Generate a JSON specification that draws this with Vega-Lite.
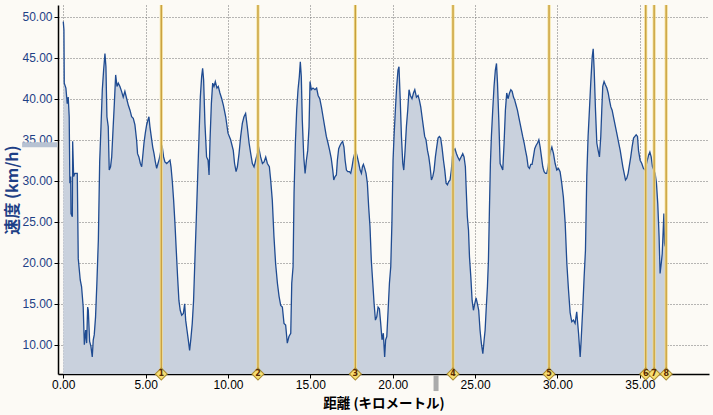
{
  "$schema": "https://vega.github.io/schema/vega-lite/v6.json",
  "width": 651,
  "height": 369,
  "autosize": {"type": "none"},
  "padding": {"left": 58, "top": 5, "right": 4, "bottom": 41},
  "background": "#FCFAF5",
  "config": {
    "view": {"stroke": null},
    "axis": {
      "labelFont": "Liberation Sans",
      "labelFontSize": 12,
      "titleFont": "Noto Sans CJK JP",
      "domainColor": "#000000",
      "domainWidth": 1.5,
      "tickColor": "#000000",
      "tickSize": 4,
      "gridColor": "#707070",
      "gridDash": [1, 2],
      "gridWidth": 1,
      "gridOpacity": 1
    }
  },
  "datasets": {
    "speed": [
      {"d":0,"v":49.4},{"d":0.04,"v":48.4},{"d":0.06,"v":41.9},{"d":0.16,"v":41.3},{"d":0.24,"v":39.4},{"d":0.3,"v":40.2},{"d":0.36,"v":37.8},{"d":0.4,"v":29.7},{"d":0.45,"v":30.5},{"d":0.47,"v":26.0},{"d":0.55,"v":25.6},{"d":0.57,"v":34.8},{"d":0.63,"v":30.5},{"d":0.71,"v":30.9},{"d":0.85,"v":30.9},{"d":0.91,"v":20.5},{"d":1.03,"v":17.9},{"d":1.11,"v":17.1},{"d":1.21,"v":14.6},{"d":1.28,"v":10.0},{"d":1.36,"v":11.8},{"d":1.42,"v":10.2},{"d":1.48,"v":14.6},{"d":1.52,"v":14.2},{"d":1.6,"v":10.4},{"d":1.68,"v":9.8},{"d":1.76,"v":8.5},{"d":1.82,"v":10.6},{"d":1.88,"v":11.2},{"d":1.96,"v":13.4},{"d":2.04,"v":17.5},{"d":2.13,"v":22.8},{"d":2.21,"v":32.3},{"d":2.29,"v":36.6},{"d":2.37,"v":41.1},{"d":2.45,"v":43.5},{"d":2.53,"v":45.5},{"d":2.59,"v":43.9},{"d":2.65,"v":37.8},{"d":2.73,"v":36.6},{"d":2.79,"v":31.3},{"d":2.87,"v":31.7},{"d":2.94,"v":32.9},{"d":3.02,"v":36.2},{"d":3.1,"v":39.4},{"d":3.18,"v":42.9},{"d":3.26,"v":41.5},{"d":3.34,"v":41.9},{"d":3.44,"v":41.5},{"d":3.54,"v":40.9},{"d":3.64,"v":40.2},{"d":3.74,"v":40.9},{"d":3.85,"v":40.0},{"d":3.95,"v":39.2},{"d":4.05,"v":38.6},{"d":4.15,"v":37.8},{"d":4.25,"v":37.6},{"d":4.35,"v":36.8},{"d":4.45,"v":35.0},{"d":4.51,"v":33.3},{"d":4.59,"v":32.9},{"d":4.68,"v":32.1},{"d":4.76,"v":31.7},{"d":4.82,"v":32.9},{"d":4.9,"v":34.6},{"d":4.98,"v":35.8},{"d":5.06,"v":36.8},{"d":5.14,"v":37.4},{"d":5.2,"v":37.8},{"d":5.26,"v":36.6},{"d":5.34,"v":35.4},{"d":5.43,"v":34.1},{"d":5.51,"v":33.3},{"d":5.59,"v":32.3},{"d":5.67,"v":31.5},{"d":5.75,"v":32.1},{"d":5.83,"v":32.7},{"d":5.93,"v":33.7},{"d":6.01,"v":34.1},{"d":6.09,"v":32.9},{"d":6.17,"v":32.3},{"d":6.28,"v":32.1},{"d":6.38,"v":32.3},{"d":6.48,"v":32.5},{"d":6.54,"v":31.7},{"d":6.62,"v":29.9},{"d":6.7,"v":27.6},{"d":6.78,"v":24.8},{"d":6.86,"v":21.5},{"d":6.94,"v":18.3},{"d":7.02,"v":15.4},{"d":7.1,"v":14.2},{"d":7.19,"v":13.6},{"d":7.29,"v":13.8},{"d":7.37,"v":15.0},{"d":7.43,"v":13.0},{"d":7.51,"v":11.8},{"d":7.59,"v":10.6},{"d":7.67,"v":9.3},{"d":7.75,"v":10.8},{"d":7.83,"v":12.6},{"d":7.91,"v":15.4},{"d":7.99,"v":20.3},{"d":8.08,"v":25.6},{"d":8.16,"v":30.5},{"d":8.24,"v":35.4},{"d":8.32,"v":40.2},{"d":8.4,"v":42.7},{"d":8.46,"v":43.7},{"d":8.52,"v":42.3},{"d":8.6,"v":37.0},{"d":8.7,"v":32.9},{"d":8.79,"v":32.5},{"d":8.85,"v":30.7},{"d":8.91,"v":35.0},{"d":8.99,"v":39.4},{"d":9.07,"v":41.9},{"d":9.15,"v":41.5},{"d":9.23,"v":42.1},{"d":9.33,"v":41.3},{"d":9.41,"v":41.5},{"d":9.51,"v":40.7},{"d":9.62,"v":40.0},{"d":9.72,"v":39.2},{"d":9.86,"v":37.8},{"d":10.0,"v":35.8},{"d":10.16,"v":35.0},{"d":10.32,"v":33.7},{"d":10.4,"v":32.1},{"d":10.49,"v":31.1},{"d":10.57,"v":31.7},{"d":10.67,"v":33.3},{"d":10.77,"v":35.4},{"d":10.87,"v":37.0},{"d":10.97,"v":37.8},{"d":11.07,"v":38.2},{"d":11.17,"v":36.6},{"d":11.28,"v":34.6},{"d":11.38,"v":33.3},{"d":11.48,"v":32.1},{"d":11.58,"v":31.7},{"d":11.68,"v":32.5},{"d":11.78,"v":33.3},{"d":11.88,"v":33.9},{"d":11.98,"v":32.9},{"d":12.09,"v":32.1},{"d":12.19,"v":32.3},{"d":12.29,"v":32.9},{"d":12.39,"v":32.1},{"d":12.51,"v":31.7},{"d":12.59,"v":30.1},{"d":12.69,"v":27.6},{"d":12.79,"v":23.2},{"d":12.89,"v":19.9},{"d":13.0,"v":17.5},{"d":13.1,"v":15.9},{"d":13.2,"v":14.8},{"d":13.3,"v":14.6},{"d":13.4,"v":12.6},{"d":13.5,"v":12.4},{"d":13.6,"v":10.2},{"d":13.7,"v":11.0},{"d":13.81,"v":11.4},{"d":13.87,"v":17.5},{"d":13.95,"v":19.5},{"d":14.01,"v":28.5},{"d":14.09,"v":34.6},{"d":14.17,"v":38.6},{"d":14.25,"v":41.1},{"d":14.33,"v":42.7},{"d":14.39,"v":44.5},{"d":14.45,"v":42.7},{"d":14.51,"v":37.4},{"d":14.6,"v":32.9},{"d":14.68,"v":30.9},{"d":14.76,"v":32.5},{"d":14.84,"v":33.7},{"d":14.92,"v":36.6},{"d":14.98,"v":42.1},{"d":15.06,"v":41.1},{"d":15.16,"v":41.3},{"d":15.28,"v":41.1},{"d":15.38,"v":41.3},{"d":15.47,"v":40.4},{"d":15.57,"v":40.0},{"d":15.67,"v":39.0},{"d":15.77,"v":37.8},{"d":15.87,"v":36.6},{"d":15.97,"v":35.4},{"d":16.07,"v":34.6},{"d":16.17,"v":33.7},{"d":16.27,"v":32.7},{"d":16.36,"v":31.3},{"d":16.42,"v":30.1},{"d":16.5,"v":30.5},{"d":16.58,"v":30.7},{"d":16.64,"v":32.5},{"d":16.72,"v":33.9},{"d":16.8,"v":34.3},{"d":16.88,"v":34.6},{"d":16.96,"v":34.8},{"d":17.04,"v":34.1},{"d":17.11,"v":32.5},{"d":17.19,"v":31.3},{"d":17.27,"v":31.1},{"d":17.37,"v":31.1},{"d":17.45,"v":30.9},{"d":17.53,"v":31.7},{"d":17.61,"v":32.7},{"d":17.69,"v":33.3},{"d":17.77,"v":33.5},{"d":17.85,"v":32.9},{"d":17.94,"v":32.1},{"d":18.02,"v":31.3},{"d":18.1,"v":30.9},{"d":18.16,"v":31.7},{"d":18.22,"v":32.0},{"d":18.3,"v":31.5},{"d":18.38,"v":30.9},{"d":18.46,"v":29.7},{"d":18.54,"v":26.8},{"d":18.62,"v":24.4},{"d":18.7,"v":20.3},{"d":18.79,"v":17.5},{"d":18.87,"v":15.0},{"d":18.95,"v":13.0},{"d":19.03,"v":13.4},{"d":19.11,"v":14.6},{"d":19.19,"v":14.4},{"d":19.27,"v":12.6},{"d":19.35,"v":10.6},{"d":19.43,"v":11.4},{"d":19.51,"v":8.5},{"d":19.57,"v":10.6},{"d":19.64,"v":11.0},{"d":19.72,"v":14.2},{"d":19.8,"v":17.5},{"d":19.88,"v":19.5},{"d":19.95,"v":24.8},{"d":20.02,"v":32.5},{"d":20.08,"v":35.4},{"d":20.16,"v":38.6},{"d":20.24,"v":41.5},{"d":20.32,"v":43.5},{"d":20.38,"v":43.9},{"d":20.45,"v":40.2},{"d":20.53,"v":35.4},{"d":20.61,"v":32.1},{"d":20.67,"v":31.3},{"d":20.75,"v":33.7},{"d":20.83,"v":36.6},{"d":20.91,"v":38.6},{"d":20.99,"v":41.1},{"d":21.07,"v":40.4},{"d":21.17,"v":40.0},{"d":21.26,"v":40.7},{"d":21.34,"v":41.1},{"d":21.44,"v":40.2},{"d":21.54,"v":40.4},{"d":21.62,"v":39.8},{"d":21.7,"v":39.0},{"d":21.78,"v":37.8},{"d":21.86,"v":36.6},{"d":21.94,"v":35.4},{"d":22.02,"v":35.0},{"d":22.11,"v":33.7},{"d":22.19,"v":32.9},{"d":22.27,"v":31.7},{"d":22.35,"v":30.1},{"d":22.43,"v":30.5},{"d":22.51,"v":31.3},{"d":22.59,"v":32.9},{"d":22.67,"v":34.1},{"d":22.75,"v":35.2},{"d":22.83,"v":35.4},{"d":22.91,"v":35.2},{"d":22.99,"v":34.1},{"d":23.08,"v":32.5},{"d":23.16,"v":31.3},{"d":23.24,"v":29.7},{"d":23.32,"v":29.5},{"d":23.4,"v":29.9},{"d":23.48,"v":30.1},{"d":23.56,"v":31.3},{"d":23.62,"v":32.9},{"d":23.7,"v":33.7},{"d":23.78,"v":33.9},{"d":23.87,"v":33.3},{"d":23.95,"v":32.9},{"d":24.05,"v":32.5},{"d":24.15,"v":32.9},{"d":24.25,"v":33.3},{"d":24.33,"v":32.9},{"d":24.41,"v":31.7},{"d":24.47,"v":28.5},{"d":24.53,"v":25.6},{"d":24.6,"v":24.0},{"d":24.66,"v":20.7},{"d":24.74,"v":18.3},{"d":24.82,"v":15.4},{"d":24.9,"v":14.2},{"d":24.98,"v":15.0},{"d":25.06,"v":15.7},{"d":25.14,"v":15.0},{"d":25.22,"v":14.2},{"d":25.3,"v":11.8},{"d":25.38,"v":10.2},{"d":25.47,"v":8.9},{"d":25.55,"v":10.6},{"d":25.61,"v":11.8},{"d":25.67,"v":14.2},{"d":25.75,"v":17.1},{"d":25.81,"v":20.3},{"d":25.87,"v":26.4},{"d":25.93,"v":32.1},{"d":25.99,"v":35.4},{"d":26.07,"v":38.6},{"d":26.15,"v":41.5},{"d":26.23,"v":43.5},{"d":26.3,"v":44.3},{"d":26.36,"v":41.9},{"d":26.44,"v":37.4},{"d":26.52,"v":32.1},{"d":26.6,"v":31.7},{"d":26.68,"v":31.3},{"d":26.76,"v":34.6},{"d":26.84,"v":38.6},{"d":26.92,"v":40.7},{"d":27.0,"v":40.0},{"d":27.09,"v":40.7},{"d":27.17,"v":41.1},{"d":27.25,"v":40.9},{"d":27.33,"v":40.2},{"d":27.41,"v":39.8},{"d":27.49,"v":39.2},{"d":27.57,"v":38.6},{"d":27.65,"v":37.8},{"d":27.73,"v":37.0},{"d":27.81,"v":36.2},{"d":27.89,"v":35.4},{"d":27.98,"v":34.6},{"d":28.06,"v":33.7},{"d":28.14,"v":32.9},{"d":28.22,"v":31.7},{"d":28.3,"v":31.5},{"d":28.38,"v":32.0},{"d":28.46,"v":32.0},{"d":28.54,"v":32.9},{"d":28.62,"v":33.9},{"d":28.7,"v":34.3},{"d":28.79,"v":34.6},{"d":28.87,"v":35.0},{"d":28.95,"v":34.1},{"d":29.03,"v":32.9},{"d":29.11,"v":31.7},{"d":29.19,"v":31.1},{"d":29.27,"v":30.9},{"d":29.35,"v":30.9},{"d":29.43,"v":31.7},{"d":29.51,"v":32.9},{"d":29.59,"v":33.7},{"d":29.66,"v":34.1},{"d":29.76,"v":33.3},{"d":29.86,"v":32.1},{"d":29.96,"v":31.3},{"d":30.06,"v":31.5},{"d":30.16,"v":31.1},{"d":30.26,"v":29.7},{"d":30.36,"v":28.0},{"d":30.47,"v":24.8},{"d":30.57,"v":19.9},{"d":30.67,"v":16.7},{"d":30.77,"v":13.9},{"d":30.87,"v":12.8},{"d":30.97,"v":13.0},{"d":31.07,"v":12.6},{"d":31.17,"v":14.0},{"d":31.28,"v":11.4},{"d":31.38,"v":8.5},{"d":31.44,"v":10.6},{"d":31.54,"v":14.6},{"d":31.62,"v":18.3},{"d":31.7,"v":21.5},{"d":31.78,"v":30.5},{"d":31.86,"v":35.4},{"d":31.94,"v":38.6},{"d":32.02,"v":41.9},{"d":32.11,"v":45.1},{"d":32.17,"v":46.1},{"d":32.23,"v":43.5},{"d":32.31,"v":38.6},{"d":32.39,"v":34.6},{"d":32.47,"v":33.7},{"d":32.55,"v":32.9},{"d":32.63,"v":35.4},{"d":32.69,"v":38.6},{"d":32.75,"v":41.5},{"d":32.83,"v":42.1},{"d":32.91,"v":41.7},{"d":33.0,"v":41.3},{"d":33.08,"v":40.7},{"d":33.16,"v":39.8},{"d":33.24,"v":39.0},{"d":33.32,"v":38.6},{"d":33.4,"v":37.8},{"d":33.48,"v":37.0},{"d":33.56,"v":36.2},{"d":33.64,"v":35.4},{"d":33.72,"v":34.6},{"d":33.81,"v":33.7},{"d":33.89,"v":32.7},{"d":33.97,"v":31.7},{"d":34.05,"v":30.9},{"d":34.13,"v":30.1},{"d":34.21,"v":30.3},{"d":34.29,"v":30.9},{"d":34.37,"v":31.9},{"d":34.45,"v":32.9},{"d":34.53,"v":34.1},{"d":34.62,"v":35.2},{"d":34.7,"v":35.4},{"d":34.78,"v":35.6},{"d":34.86,"v":35.4},{"d":34.92,"v":33.7},{"d":35.02,"v":32.5},{"d":35.12,"v":32.1},{"d":35.22,"v":31.5},{"d":35.32,"v":31.3},{"d":35.43,"v":32.3},{"d":35.53,"v":33.1},{"d":35.61,"v":33.5},{"d":35.69,"v":32.9},{"d":35.77,"v":31.7},{"d":35.85,"v":31.3},{"d":35.93,"v":30.9},{"d":36.01,"v":29.7},{"d":36.09,"v":27.2},{"d":36.17,"v":23.2},{"d":36.23,"v":18.7},{"d":36.3,"v":19.9},{"d":36.36,"v":21.1},{"d":36.42,"v":24.0},{"d":36.46,"v":26.0},{"d":36.5,"v":22.4},{"d":36.54,"v":22.0}
    ],
    "laps": [
      {"lap":"1","d":5.95},{"lap":"2","d":11.82},{"lap":"3","d":17.73},{"lap":"4","d":23.66},
      {"lap":"5","d":29.49},{"lap":"6","d":35.36},{"lap":"7","d":35.87},{"lap":"8","d":36.6}
    ],
    "avg": [{"v":34.4}],
    "cursor": [{"d":22.63}]
  },
  "layer": [
    {
      "data": {"name": "speed"},
      "mark": {"type": "area", "color": "#C9D1DD", "opacity": 1, "clip": true,
               "line": {"color": "#1F4B91", "strokeWidth": 1.3}},
      "encoding": {
        "x": {"field": "d", "type": "quantitative",
              "scale": {"domain": [-0.32, 39.2], "nice": false, "zero": false},
              "axis": {"values": [0,5,10,15,20,25,30,35], "format": ".2f",
                       "title": "距離 (キロメートル)", "titleFontSize": 13.5, "titleFontWeight": "bold",
                       "titleColor": "#000000", "labelColor": "#000000", "labelPadding": 1,
                       "titleX": 325.5, "titleY": 29, "titleBaseline": "middle", "titleAnchor": "middle"}},
        "y": {"field": "v", "type": "quantitative",
              "scale": {"domain": [6.43, 51.43], "nice": false, "zero": false},
              "axis": {"values": [10,15,20,25,30,35,40,45,50], "format": ".2f",
                       "title": "速度 (km/h)", "titleFontSize": 16, "titleFontWeight": "bold",
                       "titleColor": "#1E3F86", "labelColor": "#1E3F86", "labelPadding": 2,
                       "titleX": -46, "titleY": 184.5, "titleAngle": -90, "titleBaseline": "middle", "titleAlign": "center"}}
      }
    },
    {
      "data": {"name": "laps"},
      "mark": {"type": "rule", "color": "#F2DC8C", "strokeWidth": 3},
      "encoding": {"x": {"field": "d", "type": "quantitative"}}
    },
    {
      "data": {"name": "laps"},
      "mark": {"type": "rule", "color": "#C39A3A", "strokeWidth": 1.2},
      "encoding": {"x": {"field": "d", "type": "quantitative"}}
    },
    {
      "data": {"name": "avg"},
      "mark": {"type": "rule", "color": "#B7C2D2", "strokeWidth": 5, "clip": false},
      "encoding": {
        "y": {"field": "v", "type": "quantitative"},
        "x": {"datum": -2.5, "type": "quantitative"},
        "x2": {"datum": -0.36}
      }
    },
    {
      "data": {"name": "cursor"},
      "mark": {"type": "rule", "color": "#ABABAB", "strokeWidth": 5, "clip": false},
      "encoding": {
        "x": {"field": "d", "type": "quantitative"},
        "y": {"datum": 6.3, "type": "quantitative"},
        "y2": {"datum": 4.35}
      }
    },
    {
      "data": {"name": "laps"},
      "mark": {"type": "square", "angle": 45, "size": 72,
               "color": "#F7DE72", "stroke": "#A88A30", "strokeWidth": 1, "opacity": 1, "clip": false},
      "encoding": {
        "x": {"field": "d", "type": "quantitative"},
        "y": {"datum": 6.43, "type": "quantitative"}
      }
    },
    {
      "data": {"name": "laps"},
      "mark": {"type": "text", "fontSize": 8, "fontWeight": "bold", "color": "#5A2A00",
               "font": "DejaVu Sans", "baseline": "middle", "align": "center", "clip": false},
      "encoding": {
        "x": {"field": "d", "type": "quantitative"},
        "y": {"datum": 6.43, "type": "quantitative"},
        "text": {"field": "lap"}
      }
    }
  ]
}
